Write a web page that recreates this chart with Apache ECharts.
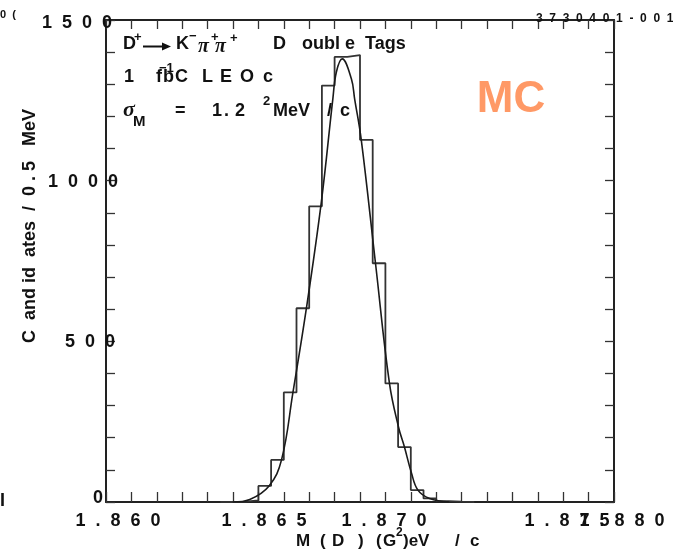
<!DOCTYPE html>
<html>
<head>
<meta charset="utf-8">
<script src="https://cdn.jsdelivr.net/npm/echarts@6/dist/echarts.min.js"></script>
<style>
  html, body { margin: 0; padding: 0; background: #fff; }
  #chart { width: 673px; height: 552px; }
</style>
</head>
<body>
<div id="chart"></div>
<script>
// Invariant mass histogram: lower edges of the 0.5 MeV bins (GeV/c^2) and counts per bin
const binEdges = [1.8645, 1.8650, 1.8655, 1.8660, 1.8665, 1.8670, 1.8675, 1.8680, 1.8685, 1.8690,
                  1.8695, 1.8700, 1.8705, 1.8710, 1.8715, 1.8720, 1.8725, 1.8730, 1.8735, 1.8740];
const binCounts = [0, 1, 5, 50, 131, 341, 603, 920, 1296, 1385,
                   1391, 1127, 743, 369, 171, 37, 11, 3, 1, 0];

// Fitted line shape, sampled along the mass axis
const fitMass = [1.86499, 1.86566, 1.86642, 1.86691, 1.86736, 1.86789, 1.86848, 1.86893, 1.86907,
                 1.86930, 1.86966, 1.86979, 1.87005, 1.87061, 1.87116, 1.87152, 1.87175, 1.87202,
                 1.87228, 1.87274, 1.87352];
const fitValues = [0, 8, 50, 131, 341, 603, 935, 1254, 1338,
                   1379, 1317, 1254, 1127, 743, 369, 232, 171, 92,
                   37, 11, 0];

// Labelled ticks
const massTicks = [1.860, 1.865, 1.870, 1.875, 1.880];
const countTicks = [0, 500, 1000, 1500];

const FONT = '"Liberation Sans", Arial, Helvetica, sans-serif';
const SERIF = '"Liberation Serif", "DejaVu Serif", serif';
const B18 = 'bold 18px ' + FONT;
const INK = '#111';

const spaced = s => s.split('').join('  ');

const histData = binEdges.map((e, i) => [e, binCounts[i]]);
histData.push([binEdges[binEdges.length - 1] + 0.0005, 0]);
const fitData = fitMass.map((m, i) => [m, fitValues[i]]);

const labelFont = { fontSize: 18, fontWeight: 'bold', fontFamily: FONT, color: INK };

// per-label horizontal nudges for the mass labels
const massRich = {};
const massShift = [12, 31, 24, 80, 8];
massShift.forEach((s, i) => {
  massRich['m' + i] = Object.assign({ padding: [0, 0, 0, 2 * s] }, labelFont);
});
const countPad = { 0: [0, 15, 8, 0], 500: [2, 3, 0, 0], 1000: [2, 0, 0, 0], 1500: [6, 6, 0, 0] };
const countRich = {};
countTicks.forEach(v => {
  countRich['c' + v] = Object.assign({ padding: countPad[v] }, labelFont);
});

function massLabel(v) {
  const i = massTicks.findIndex(t => Math.abs(t - v) < 1e-7);
  if (i < 0) return '';
  return '{m' + i + '|' + spaced(massTicks[i].toFixed(3)) + '}';
}
function countLabel(v) {
  const i = countTicks.findIndex(t => Math.abs(t - v) < 1e-6);
  if (i < 0) return '';
  return '{c' + countTicks[i] + '|' + spaced(String(countTicks[i])) + '}';
}

function txt(text, x, y, font, extra) {
  return {
    type: 'text', x: x, y: y, z: 10,
    style: Object.assign({ text: text, font: font || B18, fill: INK,
      textAlign: 'left', textVerticalAlign: 'middle' }, extra || {})
  };
}
const SUP = 'bold 13px ' + FONT;
const PI = 'italic bold 20px ' + SERIF;
const B17 = 'bold 17px ' + FONT;

const yTitle = txt('C  and id  ates  /  0 . 5   MeV', 30, 226, B18, { textAlign: 'center' });
yTitle.rotation = Math.PI / 2;

const graphics = [
  // decay line
  txt('D', 123, 44),
  txt('+', 134, 37.5, SUP),
  { type: 'line', z: 10, shape: { x1: 143, y1: 46.5, x2: 164, y2: 46.5 }, style: { stroke: INK, lineWidth: 2 } },
  { type: 'polygon', z: 10, shape: { points: [[162, 42.5], [171, 46.5], [162, 50.5]] }, style: { fill: INK } },
  txt('K', 176, 44),
  txt('\u2212', 189, 36.5, SUP),
  txt('\u03c0', 198, 46.5, PI),
  txt('+', 211, 37.5, SUP),
  txt('\u03c0', 215, 46.5, PI),
  txt('+', 230, 38.5, SUP),
  txt('D', 273, 44),
  txt('oubl', 302, 44),
  txt('e', 345, 44),
  txt('Tags', 365, 44),
  // luminosity line
  txt('1', 124, 77),
  txt('f', 156, 77),
  txt('b', 163, 77),
  txt('C', 175, 77),
  txt('L', 202, 77),
  txt('E', 220, 77),
  txt('O', 240, 77),
  txt('c', 263, 77),
  txt('\u22121', 159, 68, SUP),
  // resolution line
  txt('\u03c3', 123, 110, 'italic bold 22px ' + SERIF),
  txt('M', 133, 122, 'bold 15px ' + FONT),
  txt('=', 175, 111.5),
  txt('1', 212, 111.5),
  txt('.', 224, 111.5),
  txt('2', 235, 111.5),
  txt('2', 263, 101, SUP),
  txt('MeV', 273, 111.5),
  txt('/', 327, 111.5),
  txt('c', 340, 111.5),
  // sample tag
  txt('MC', 511, 99.5, 'bold 44px ' + FONT, { fill: '#ff9966', textAlign: 'center' }),
  // figure id and page-edge fragments
  txt('3  7  3  0  4  0  1  -  0  0  1', 536, 19, 'bold 12px ' + FONT),
  txt('0  (', 0, 15, 'bold 11px ' + FONT),
  txt('I', 0, 501, B18),
  // axis titles
  yTitle,
  txt('M', 296, 541, B17),
  txt('(', 320, 541, B17),
  txt('D', 332, 541, B17),
  txt(')', 358, 541, B17),
  txt('(', 376, 541, B17),
  txt('G', 383, 541, B17),
  txt('2', 396, 533, 'bold 12px ' + FONT),
  txt(')eV', 403, 541, B17),
  txt('/', 455, 541, B17),
  txt('c', 470, 541, B17)
];

const chart = echarts.init(document.getElementById('chart'), null, { renderer: 'canvas' });
const frameLine = { show: true, onZero: false, lineStyle: { color: '#222', width: 2 } };
const tickIn = len => ({ show: true, inside: true, length: len, lineStyle: { color: '#333', width: 1.3 } });

chart.setOption({
  animation: false,
  backgroundColor: '#fff',
  grid: { left: 106, right: 59, top: 20, bottom: 50, containLabel: false },
  xAxis: [
    {
      type: 'value', min: 1.860, max: 1.880, interval: 0.001, position: 'bottom',
      axisLine: frameLine, axisTick: tickIn(10), splitLine: { show: false },
      axisLabel: { show: true, margin: 10, formatter: massLabel, rich: massRich, hideOverlap: false,
                   showMinLabel: true, showMaxLabel: true }
    },
    {
      type: 'value', min: 1.860, max: 1.880, interval: 0.001, position: 'top',
      axisLine: frameLine, axisTick: tickIn(9), splitLine: { show: false }, axisLabel: { show: false }
    }
  ],
  yAxis: [
    {
      type: 'value', min: 0, max: 1500, interval: 100, position: 'left',
      axisLine: frameLine, axisTick: tickIn(9), splitLine: { show: false },
      axisLabel: { show: true, margin: -12, formatter: countLabel, rich: countRich,
                   showMinLabel: true, showMaxLabel: true }
    },
    {
      type: 'value', min: 0, max: 1500, interval: 100, position: 'right',
      axisLine: frameLine, axisTick: tickIn(9), splitLine: { show: false }, axisLabel: { show: false }
    }
  ],
  series: [
    {
      name: 'Data', type: 'line', step: 'end', data: histData, showSymbol: false, symbol: 'none',
      lineStyle: { color: '#333', width: 1.8 }, z: 3
    },
    {
      name: 'Fit', type: 'line', smooth: 0.4, data: fitData, showSymbol: false, symbol: 'none',
      lineStyle: { color: '#1a1a1a', width: 1.6 }, z: 4
    }
  ],
  graphic: graphics
});
</script>
</body>
</html>
